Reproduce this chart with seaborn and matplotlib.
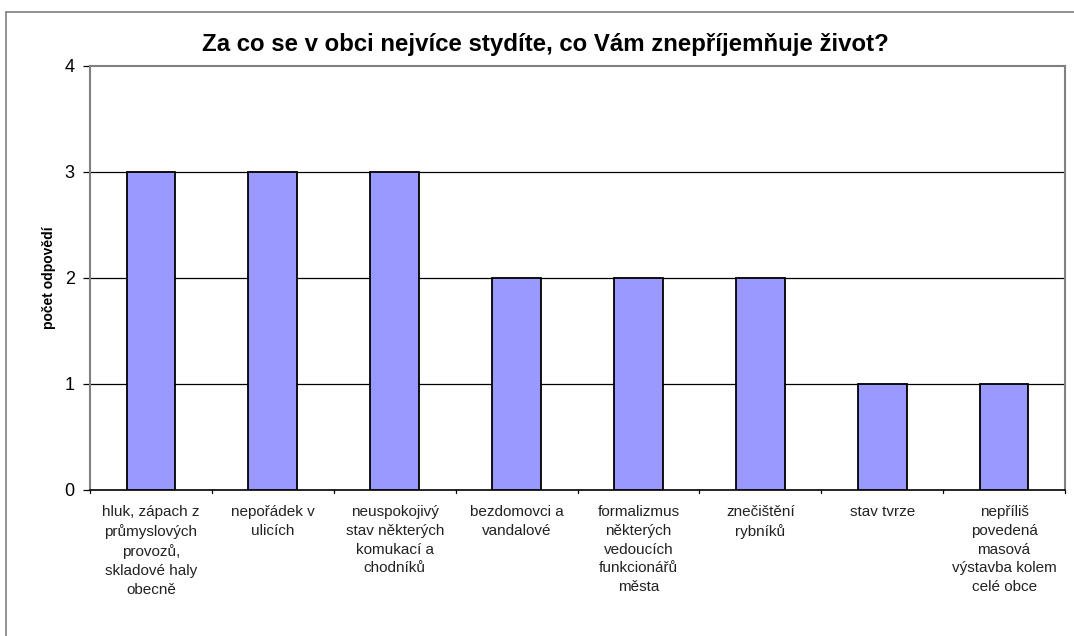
import matplotlib
matplotlib.use("Agg")
import matplotlib.pyplot as plt
import seaborn as sns
import pandas as pd
import numpy as np
from matplotlib.lines import Line2D

categories = [
    "hluk, zápach z\nprůmyslových\nprovozů,\nskladové haly\nobecně",
    "nepořádek v\nulicích",
    "neuspokojivý\nstav některých\nkomukací a\nchodníků",
    "bezdomovci a\nvandalové",
    "formalizmus\nněkterých\nvedoucích\nfunkcionářů\nměsta",
    "znečištění\nrybníků",
    "stav tvrze",
    "nepříliš\npovedená\nmasová\nvýstavba kolem\ncelé obce",
]
values = [3, 3, 3, 2, 2, 2, 1, 1]
title = "Za co se v obci nejvíce stydíte, co Vám znepříjemňuje život?"
ylabel = "počet odpovědí"

sns.set_theme(style="white")
plt.rcParams["font.family"] = ["Liberation Sans", "DejaVu Sans"]
plt.rcParams["text.color"] = "black"
plt.rcParams["xtick.color"] = "black"
plt.rcParams["ytick.color"] = "black"
plt.rcParams["axes.labelcolor"] = "black"

fig = plt.figure(figsize=(10.74, 6.36), dpi=100)
ax = fig.add_axes([90/1074, 1-490/636, (1065-90)/1074, (490-66)/636])

df = pd.DataFrame({"cat": categories, "val": values})
sns.barplot(data=df, x="cat", y="val", color="#9999FF", edgecolor="black",
            linewidth=1.3, width=0.4, saturation=1, ax=ax, zorder=3)

ax.set_ylim(0, 4)
ax.set_xlim(-0.5, len(categories)-0.5)
ax.set_yticks([0, 1, 2, 3, 4])
ax.set_yticklabels(["0", "1", "2", "3", "4"], fontsize=13)
for y in [1, 2, 3]:
    ax.axhline(y, color="black", linewidth=0.9, zorder=1)

ax.set_xticks(np.arange(len(categories)))
ax.set_xticklabels(categories, fontsize=11, linespacing=1.42, color="#222222")
ax.tick_params(axis="x", length=0, pad=11)
ax.tick_params(axis="y", length=5, width=0.9, color="black", left=True, pad=6, direction="out")
# category separators on x axis
for xb in np.arange(-0.5, len(categories), 1.0):
    ax.plot([xb, xb], [0, -0.03], color="black", lw=0.9, clip_on=False,
            transform=ax.transData)

for s in ["top", "right", "left"]:
    ax.spines[s].set_visible(True)
    ax.spines[s].set_color("#808080")
    ax.spines[s].set_linewidth(1.5)
ax.spines["bottom"].set_color("black")
ax.spines["bottom"].set_linewidth(1.2)

ax.set_xlabel("")
ax.set_ylabel(ylabel, fontsize=10, fontweight="bold", labelpad=6)
fig.text(545/1074, 1-45/636, title, ha="center", va="center",
         fontsize=17.3, fontweight="bold", color="black")

# outer chart border (top and left)
fig.add_artist(Line2D([6/1074, 1.0], [1-12/636, 1-12/636], color="#808080", lw=1.2))
fig.add_artist(Line2D([6/1074, 6/1074], [0, 1-12/636], color="#808080", lw=1.2))

fig.savefig("out.png", dpi=100)
